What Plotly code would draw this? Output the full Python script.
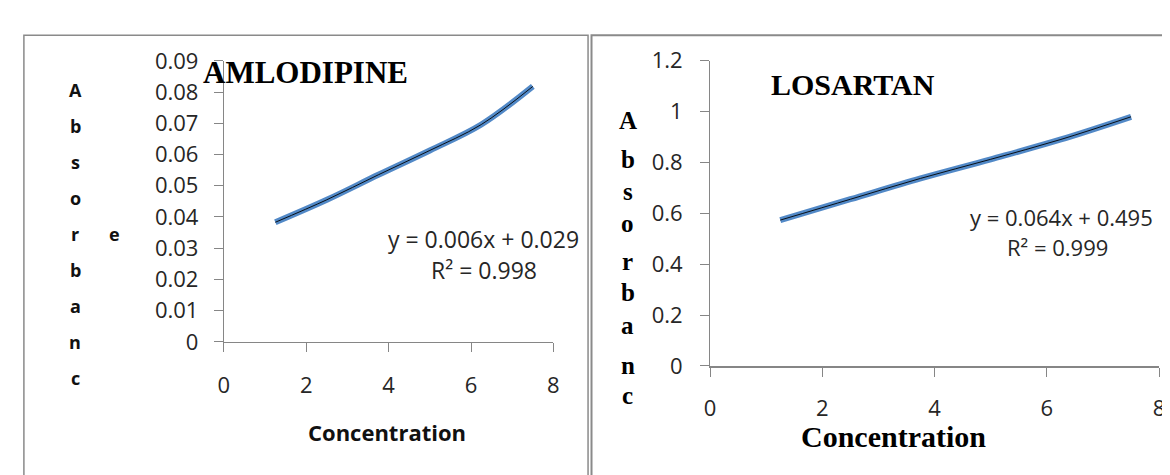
import plotly.graph_objects as go

# ---- data ----
conc = [1.25, 2.5, 3.75, 5.0, 6.25, 7.5]
aml_abs = [0.0383, 0.0455, 0.0535, 0.0613, 0.0696, 0.0818]
los_abs = [0.573, 0.655, 0.737, 0.812, 0.890, 0.979]

aml_eq = "y = 0.006x + 0.029"
aml_r2 = "R\u00b2 = 0.998"
los_eq = "y = 0.064x + 0.495"
los_r2 = "R\u00b2 = 0.999"

aml_yticks = [0, 0.01, 0.02, 0.03, 0.04, 0.05, 0.06, 0.07, 0.08, 0.09]
los_yticks = [0, 0.2, 0.4, 0.6, 0.8, 1.0, 1.2]
xticks = [0, 2, 4, 6, 8]

W, H = 1170, 475
def px(x):
    return x / W
def py(y):
    return 1 - y / H

BLUE = "#5289C7"
AX = "#868686"
SANS = "Open Sans"
SERIF = "Liberation Serif"

fig = go.Figure()
# Amlodipine
fig.add_trace(go.Scatter(x=conc, y=aml_abs, mode="lines", line=dict(color=BLUE, width=6, shape="spline"),
                         xaxis="x", yaxis="y", showlegend=False))
fig.add_trace(go.Scatter(x=conc, y=aml_abs, mode="lines", line=dict(color="black", width=0.9, shape="spline"),
                         xaxis="x", yaxis="y", showlegend=False))
# Losartan
fig.add_trace(go.Scatter(x=conc, y=los_abs, mode="lines", line=dict(color=BLUE, width=6, shape="spline"),
                         xaxis="x2", yaxis="y2", showlegend=False))
fig.add_trace(go.Scatter(x=conc, y=los_abs, mode="lines", line=dict(color="black", width=0.9, shape="spline"),
                         xaxis="x2", yaxis="y2", showlegend=False))

tickfont = dict(family=SANS, size=22, color="#262626")
common = dict(showgrid=False, zeroline=False, showline=True, linecolor=AX, ticks="outside",
              ticklen=9, tickcolor=AX, tickwidth=1, tickfont=tickfont, fixedrange=True)

fig.update_layout(
    width=W, height=H, margin=dict(l=0, r=0, t=0, b=0),
    paper_bgcolor="white", plot_bgcolor="white",
    xaxis=dict(domain=[px(212), px(545)], range=[0, 8], tickvals=xticks, anchor="y",
               ticklabelstandoff=15, linewidth=1, **common),
    yaxis=dict(domain=[py(339.3), py(39.3)], range=[0, 0.09], tickvals=aml_yticks,
               ticktext=[("%g" % v) for v in aml_yticks], anchor="x",
               ticklabelstandoff=11, linewidth=1, **common),
    xaxis2=dict(domain=[px(703.3), px(1157)], range=[0, 8], tickvals=xticks, anchor="y2",
                ticklabelstandoff=13, linewidth=2, **common),
    yaxis2=dict(domain=[py(365), py(39)], range=[0, 1.2], tickvals=los_yticks,
                ticktext=[("%g" % v) for v in los_yticks], anchor="x2",
                ticklabelstandoff=13, linewidth=1, **common),
)

ann = []
def add(text, x, y, size, family, bold=False, color="black", xanchor="center"):
    t = "<b>%s</b>" % text if bold else text
    ann.append(dict(text=t, x=px(x), y=py(y), xref="paper", yref="paper", showarrow=False,
                    xanchor=xanchor, yanchor="middle", borderpad=0,
                    font=dict(family=family, size=size, color=color)))

# titles
add("AMLODIPINE", 295, 52, 31, SERIF, bold=True)
add("LOSARTAN", 848, 65, 30, SERIF, bold=True)
# x titles
add("Concentration", 377, 435, 22, SANS, bold=True, color="#111111")
add("Concentration", 889, 440, 30, SERIF, bold=True)
# left y title (vertical letters)
left_letters = ["A", "b", "s", "o", "r", "b", "a", "n", "c"]
left_ys = [70, 108.5, 147, 185.5, 224, 262.5, 301, 339.5, 378]
for ch, yy in zip(left_letters, left_ys):
    add(ch, 62, yy, 18, SANS, bold=True, color="#111111")
add("e", 102, 224, 18, SANS, bold=True, color="#111111")
# right y title
right_letters = ["A", "b", "s", "o", "r", "b", "a", "n", "c"]
right_ys = [103, 145, 179, 213, 254, 287, 322, 365, 397]
for ch, yy in zip(right_letters, right_ys):
    add(ch, 620, yy, 25, SERIF, bold=True)
# equations
add(aml_eq, 474.5, 230, 23, SANS, color="#262626")
add(aml_r2, 474.5, 263, 23, SANS, color="#262626")
add(los_eq, 1058.5, 206, 22, SANS, color="#262626")
add(los_r2, 1054, 238, 22, SANS, color="#262626")

fig.update_layout(annotations=ann)

# panel borders
fig.add_shape(type="rect", xref="paper", yref="paper", x0=px(10), x1=px(580), y0=-0.2, y1=py(12),
              line=dict(color="#8a8a8a", width=1.5))
fig.add_shape(type="rect", xref="paper", yref="paper", x0=px(583.5), x1=1.2, y0=-0.2, y1=py(12),
              line=dict(color="#8a8a8a", width=2))

fig.write_html("out.html")
